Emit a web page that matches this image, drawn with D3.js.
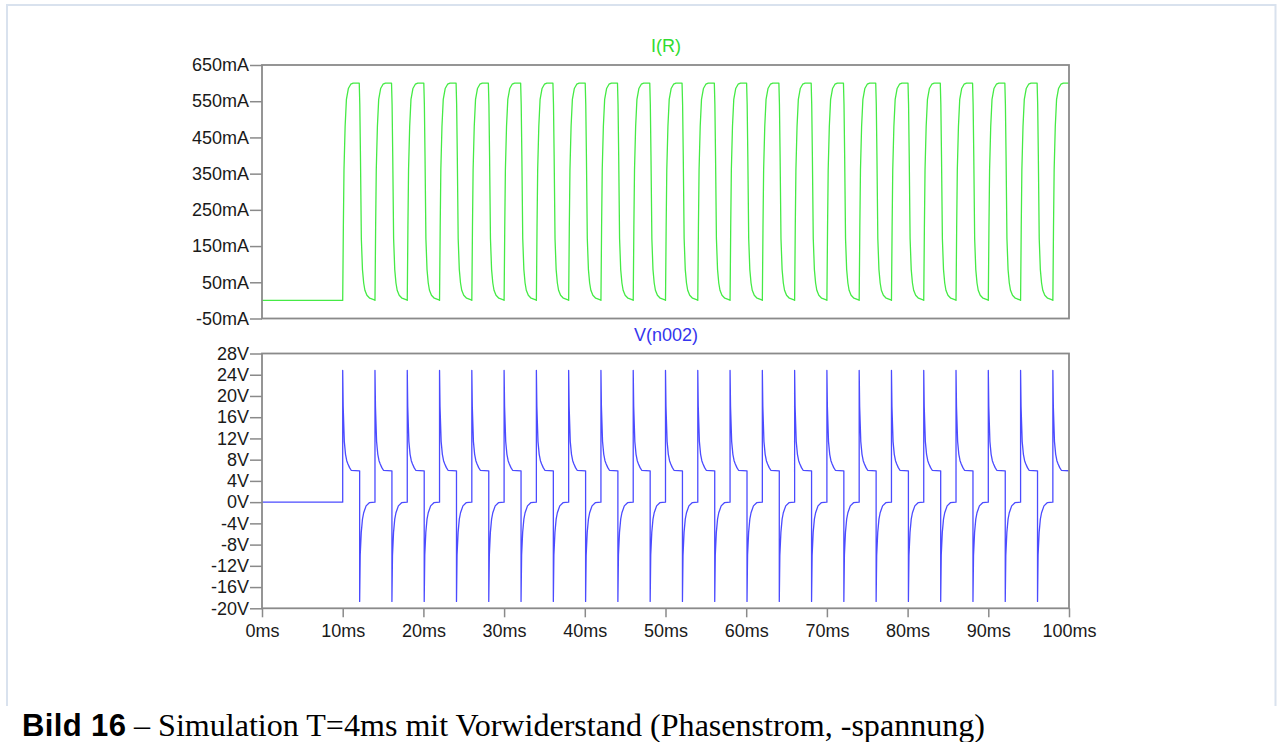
<!DOCTYPE html>
<html>
<head>
    <meta charset="utf-8">
    <script src="https://d3js.org/d3.v7.min.js"></script>
    <style>
        body { margin: 0; background: #fff; }
    </style>
</head>

<body>
    <div id="app"></div>
</body>

<script>
    // --- data ---
    // times (ms) where each switching period starts
    const pulseStarts = [10, 14, 18, 22, 26, 30, 34, 38, 42, 46, 50, 54, 58, 62, 66, 70, 74, 78, 82, 86, 90, 94, 98];

    // I(R) before switching starts, [ms, mA]
    const currentIdle = [[0, 0], [10, 0]];
    // I(R) over one 4ms period, [ms after period start, mA]
    const currentPeriod = [
        [0, 0], [0.08, 200], [0.16, 360], [0.3, 480], [0.46, 555], [0.7, 585], [1.0, 597], [1.3, 600],
        [2.05, 600], [2.12, 540], [2.2, 400], [2.31, 170], [2.45, 85], [2.6, 48], [2.75, 28],
        [3.0, 14], [3.35, 6], [4.0, 1]
    ];

    // V(n002) before switching starts, [ms, V]
    const voltageIdle = [[0, 0], [10, 0]];
    // V(n002) over one 4ms period, [ms after period start, V]
    const voltagePeriod = [
        [0, 0], [0, 24.8], [0.06, 18], [0.2, 11.4], [0.35, 9], [0.5, 7.8], [0.65, 7.2], [0.85, 6.5],
        [1.05, 6.0], [2.1, 5.9], [2.1, -18.7], [2.17, -10], [2.3, -5.7], [2.45, -3.2], [2.6, -2],
        [2.9, -0.7], [3.3, -0.1], [4.0, 0]
    ];

    const currentTicks = [-50, 50, 150, 250, 350, 450, 550, 650];
    const voltageTicks = [-20, -16, -12, -8, -4, 0, 4, 8, 12, 16, 20, 24, 28];
    const timeTicks = [0, 10, 20, 30, 40, 50, 60, 70, 80, 90, 100];

    // put one period shape at every period start
    function buildSeries(idle, period) {
        let pts = idle.slice();
        pulseStarts.forEach(function (s) {
            period.forEach(function (p) {
                pts.push([s + p[0], p[1]]);
            });
        });
        return pts;
    }

    const W = 1277, H = 742;
    const left = 262, right = 1069;
    const frameColor = "#8a8a8a";
    const sans = "Liberation Sans, Arial, sans-serif";

    let svg = d3.select("#app")
        .append("svg")
        .attr("width", W)
        .attr("height", H);

    // page frame (top, left, right)
    svg.append("path")
        .attr("d", "M7,706 V5 H1275.5 V706")
        .attr("fill", "none")
        .attr("stroke", "#d9e2ee")
        .attr("stroke-width", 2);

    let x = d3.scaleLinear().domain([0, 100]).range([left, right]);

    function panel(opts) {
        let y = d3.scaleLinear().domain(opts.domain).range([opts.bottom, opts.top]);
        let g = svg.append("g");

        g.append("clipPath").attr("id", opts.id)
            .append("rect")
            .attr("x", left).attr("y", opts.top)
            .attr("width", right - left).attr("height", opts.bottom - opts.top);

        let yAxis = d3.axisLeft(y)
            .tickValues(opts.ticks)
            .tickFormat(function (d) { return d + opts.unit; })
            .tickSize(12)
            .tickPadding(1);
        let ya = g.append("g").attr("transform", "translate(" + left + ",0)").call(yAxis);
        ya.attr("font-family", sans).attr("font-size", 18);
        ya.select(".domain").remove();
        ya.selectAll("line").attr("stroke", frameColor).attr("stroke-width", 1.5);
        ya.selectAll("text").attr("fill", "#1a1a1a");

        g.append("path")
            .datum(opts.data)
            .attr("clip-path", "url(#" + opts.id + ")")
            .attr("fill", "none")
            .attr("stroke", opts.color)
            .attr("stroke-width", 1.3)
            .attr("stroke-linejoin", "round")
            .attr("d", d3.line()
                .x(function (d) { return x(d[0]); })
                .y(function (d) { return y(d[1]); }));

        g.append("rect")
            .attr("x", left).attr("y", opts.top)
            .attr("width", right - left).attr("height", opts.bottom - opts.top)
            .attr("fill", "none")
            .attr("stroke", frameColor)
            .attr("stroke-width", 1.8);

        g.append("text")
            .attr("x", 666)
            .attr("y", opts.titleY)
            .attr("text-anchor", "middle")
            .attr("font-family", sans)
            .attr("font-size", 18)
            .attr("fill", opts.titleColor)
            .text(opts.title);

        return y;
    }

    panel({
        id: "clipI", domain: [-50, 650], top: 65, bottom: 318.5,
        ticks: currentTicks, unit: "mA",
        data: buildSeries(currentIdle, currentPeriod),
        color: "#45ea45", title: "I(R)", titleColor: "#2fdc2f", titleY: 52
    });

    panel({
        id: "clipV", domain: [-20, 28], top: 353.5, bottom: 608.3,
        ticks: voltageTicks, unit: "V",
        data: buildSeries(voltageIdle, voltagePeriod),
        color: "#4b4bff", title: "V(n002)", titleColor: "#3535ee", titleY: 341
    });

    // time axis under the lower panel
    let xAxis = d3.axisBottom(x)
        .tickValues(timeTicks)
        .tickFormat(function (d) { return d + "ms"; })
        .tickSize(9)
        .tickPadding(7);
    let xa = svg.append("g").attr("transform", "translate(0,608.3)").call(xAxis);
    xa.attr("font-family", sans).attr("font-size", 18);
    xa.select(".domain").remove();
    xa.selectAll("line").attr("stroke", frameColor).attr("stroke-width", 1.5);
    xa.selectAll("text").attr("fill", "#1a1a1a");

    // caption
    svg.append("text")
        .attr("x", 22).attr("y", 736)
        .attr("font-family", sans)
        .attr("font-size", 31)
        .attr("font-weight", "bold")
        .attr("fill", "#000")
        .attr("textLength", 104)
        .text("Bild 16");
    svg.append("text")
        .attr("x", 134).attr("y", 736)
        .attr("font-family", "Liberation Serif, Times New Roman, serif")
        .attr("font-size", 31)
        .attr("fill", "#000")
        .attr("textLength", 851)
        .attr("lengthAdjust", "spacingAndGlyphs")
        .text("– Simulation T=4ms mit Vorwiderstand (Phasenstrom, -spannung)");
</script>
</html>
